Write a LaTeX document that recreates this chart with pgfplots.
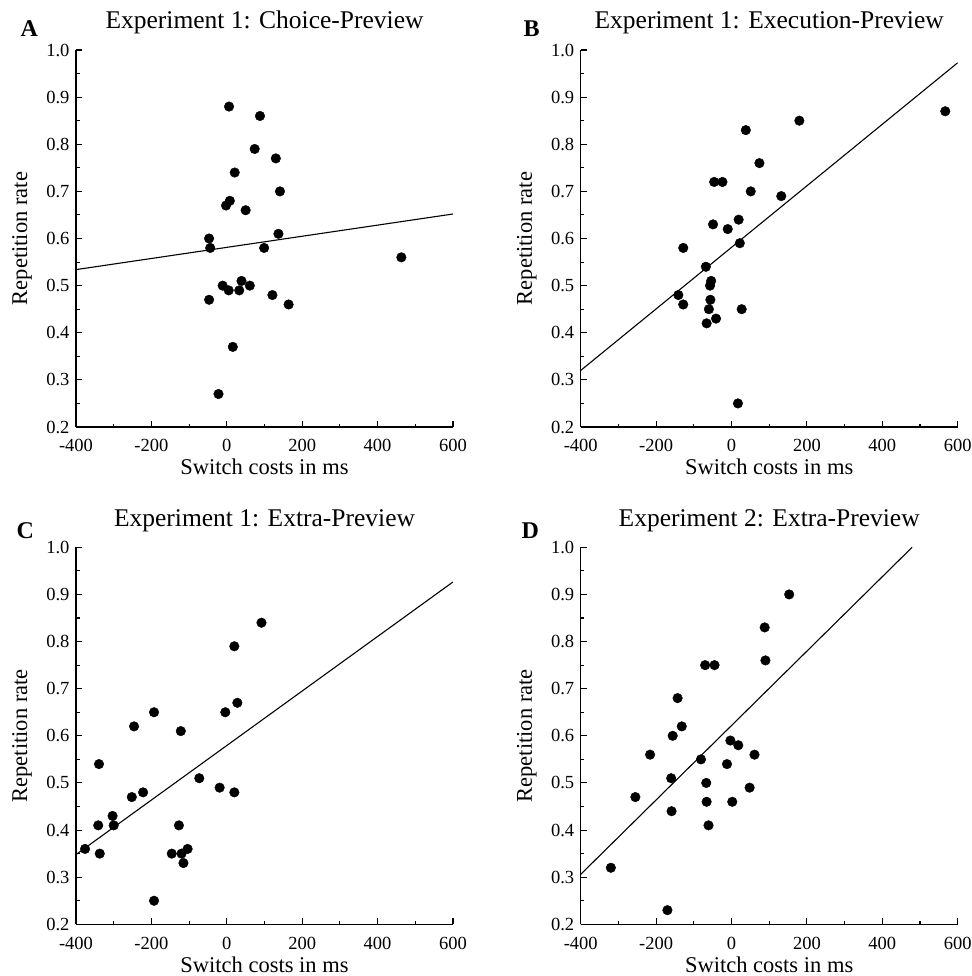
\documentclass[border=0pt]{standalone}
\usepackage{pgfplots}
\pgfplotsset{compat=1.18}
\usepackage{fontspec}
\setmainfont{Liberation Serif}

\pgfplotsset{
  panel/.style={
    scale only axis, width=377pt, height=377pt,
    anchor=south west,
    xmin=-400, xmax=600, ymin=0.2, ymax=1.0,
    axis x line*=bottom, axis y line*=left,
    axis line style={line width=1.4pt},
    xtick={-400,-200,0,200,400,600},
    xticklabels={-400,-200,0,200,400,600},
    ytick={0.2,0.3,0.4,0.5,0.6,0.7,0.8,0.9,1.0},
    yticklabels={0.2,0.3,0.4,0.5,0.6,0.7,0.8,0.9,1.0},
    minor x tick num=1, minor y tick num=1,
    tick align=inside,
    major tick length=6pt, minor tick length=3.5pt,
    every tick/.style={black, line width=1.1pt},
    tick label style={font=\fontsize{18.5}{18.5}\selectfont},
    yticklabel style={xshift=-3pt},
    xticklabel style={yshift=-9pt},
    xlabel={Switch costs in ms},
    ylabel={Repetition rate},
    label style={font=\fontsize{22.5}{24}\selectfont},
    xlabel style={at={(axis description cs:0.5,-0.127)}, anchor=base},
    ylabel style={at={(axis description cs:-0.143,0.5)}, anchor=center},
    title style={at={(axis description cs:0.5,1.04)}, anchor=base,
                 font=\fontsize{25.5}{27}\selectfont},
  },
  dots/.style={only marks, mark=*, mark size=4.8pt, black},
  fit/.style={black, line width=1.1pt, no marks},
}

\begin{document}
\begin{tikzpicture}
\useasboundingbox (0pt,0pt) rectangle (971pt,-976pt);

% A
\begin{axis}[panel, at={(76pt,-427pt)}, title={Experiment 1: Choice-Preview}]
\addplot[fit] coordinates {(-400,0.534) (600,0.652)};
\addplot[dots] coordinates {
(6,0.88) (88,0.86) (74,0.79) (130,0.77) (21,0.74) (141,0.70)
(8,0.68) (-2,0.67) (50,0.66) (-47,0.60) (137,0.61) (-44,0.58)
(99,0.58) (463,0.56) (-11,0.50) (39,0.51) (61,0.50) (5,0.49)
(33,0.49) (121,0.48) (-47,0.47) (164,0.46) (16,0.37) (-22,0.27)
};
\end{axis}

% B
\begin{axis}[panel, at={(580.7pt,-427pt)}, title={Experiment 1: Execution-Preview}]
\addplot[fit] coordinates {(-400,0.320) (600,0.973)};
\addplot[dots] coordinates {
(567,0.87) (180,0.85) (38,0.83) (74,0.76) (-46,0.72) (-24,0.72)
(51,0.70) (132,0.69) (19,0.64) (-49,0.63) (-10,0.62) (22,0.59)
(-128,0.58) (-68,0.54) (-54,0.51) (-57,0.50) (-56,0.47) (-141,0.48)
(-128,0.46) (-60,0.45) (27,0.45) (-41,0.43) (-66,0.42) (17,0.25)
};
\end{axis}

% C
\begin{axis}[panel, at={(76pt,-924.3pt)}, title={Experiment 1: Extra-Preview}]
\addplot[fit] coordinates {(-400,0.348) (600,0.9265)};
\addplot[dots] coordinates {
(92,0.84) (20,0.79) (28,0.67) (-4,0.65) (-193,0.65) (-246,0.62)
(-122,0.61) (-339,0.54) (-73,0.51) (-19,0.49) (20,0.48) (-222,0.48)
(-252,0.47) (-303,0.43) (-300,0.41) (-341,0.41) (-127,0.41) (-376,0.36)
(-104,0.36) (-337,0.35) (-146,0.35) (-120,0.35) (-115,0.33) (-193,0.25)
};
\end{axis}

% D
\begin{axis}[panel, at={(580.7pt,-924.3pt)}, title={Experiment 2: Extra-Preview}]
\addplot[fit] coordinates {(-400,0.306) (479,1.0)};
\addplot[dots] coordinates {
(153,0.90) (88,0.83) (90,0.76) (-70,0.75) (-45,0.75) (-143,0.68)
(-132,0.62) (-156,0.60) (-3,0.59) (18,0.58) (-216,0.56) (61,0.56)
(-81,0.55) (-12,0.54) (-160,0.51) (-67,0.50) (48,0.49) (-255,0.47)
(-66,0.46) (2,0.46) (-159,0.44) (-61,0.41) (-320,0.32) (-170,0.23)
};
\end{axis}

\node[anchor=base west, font=\bfseries\fontsize{24}{26}\selectfont] at (17pt,-37pt) {A};
\node[anchor=base west, font=\bfseries\fontsize{24}{26}\selectfont] at (520pt,-37pt) {B};
\node[anchor=base west, font=\bfseries\fontsize{24}{26}\selectfont] at (13pt,-538pt) {C};
\node[anchor=base west, font=\bfseries\fontsize{24}{26}\selectfont] at (518pt,-538pt) {D};
\end{tikzpicture}
\end{document}
